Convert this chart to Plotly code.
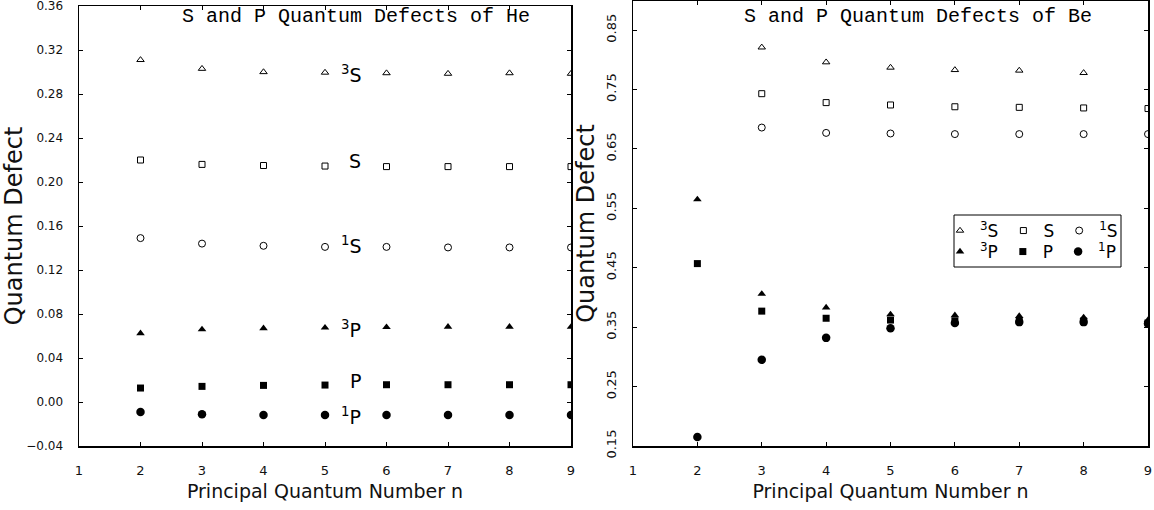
import plotly.graph_objects as go

W, H = 1154, 510

# ---------------- data ----------------
n_he = [2, 3, 4, 5, 6, 7, 8, 9]
he_3S = [0.311, 0.303, 0.300, 0.2995, 0.299, 0.2985, 0.299, 0.2985]
he_S = [0.220, 0.216, 0.215, 0.2145, 0.214, 0.214, 0.214, 0.214]
he_1S = [0.149, 0.144, 0.142, 0.141, 0.141, 0.1405, 0.1405, 0.1405]
he_3P = [0.0625, 0.066, 0.067, 0.0676, 0.068, 0.0684, 0.0684, 0.0682]
he_P = [0.0127, 0.0142, 0.0151, 0.0154, 0.0157, 0.0157, 0.0157, 0.0157]
he_1P = [-0.0091, -0.0112, -0.0118, -0.0118, -0.0118, -0.0118, -0.0118, -0.0118]

n_be_s = [3, 4, 5, 6, 7, 8, 9]
be_3S = [0.821, 0.796, 0.787, 0.783, 0.782, 0.778, None]
be_S = [0.743, 0.728, 0.724, 0.721, 0.720, 0.719, 0.718]
be_1S = [0.686, 0.677, 0.676, 0.675, 0.675, 0.675, 0.675]
n_be_p = [2, 3, 4, 5, 6, 7, 8, 9]
be_3P = [0.565, 0.406, 0.383, 0.3715, 0.370, 0.3686, 0.3664, 0.362]
be_P = [0.457, 0.377, 0.365, 0.362, 0.3607, 0.3607, 0.3602, 0.357]
be_1P = [0.165, 0.295, 0.332, 0.348, 0.357, 0.3585, 0.3585, 0.356]

he_labels = ["<sup>3</sup>S", "S", "<sup>1</sup>S", "<sup>3</sup>P", "P", "<sup>1</sup>P"]
he_label_y = [0.2985, 0.2195, 0.1425, 0.0665, 0.0195, -0.0125]
he_label_x = [5.43, 5.49, 5.43, 5.43, 5.49, 5.43]

x_ticks = [1, 2, 3, 4, 5, 6, 7, 8, 9]
he_yticks = [-0.04, 0.00, 0.04, 0.08, 0.12, 0.16, 0.20, 0.24, 0.28, 0.32, 0.36]
be_yticks = [0.15, 0.25, 0.35, 0.45, 0.55, 0.65, 0.75, 0.85]

# ---------------- figure ----------------
fig = go.Figure()

def mk(symbol, size):
    open_ = symbol.endswith("-open")
    return dict(symbol=symbol, size=size, color="black",
                line=dict(color="black", width=1 if open_ else 0))

styles = {
    "3S": mk("triangle-up-open", 6.5),
    "S": mk("square-open", 6),
    "1S": mk("circle-open", 7),
    "3P": mk("triangle-up", 7.5),
    "P": mk("square", 7),
    "1P": mk("circle", 8.5),
}

for key, ys in [("3S", he_3S), ("S", he_S), ("1S", he_1S),
                ("3P", he_3P), ("P", he_P), ("1P", he_1P)]:
    fig.add_trace(go.Scatter(x=n_he, y=ys, mode="markers", marker=styles[key],
                             showlegend=False, xaxis="x", yaxis="y",
                             hoverinfo="skip"))

names = {"3S": "<sup>3</sup>S", "S": "S", "1S": "<sup>1</sup>S",
         "3P": "<sup>3</sup>P", "P": "P", "1P": "<sup>1</sup>P"}
for key, xs, ys, lg in [("3S", n_be_s, be_3S, "legend"), ("S", n_be_s, be_S, "legend"),
                        ("1S", n_be_s, be_1S, "legend"),
                        ("3P", n_be_p, be_3P, "legend2"), ("P", n_be_p, be_P, "legend2"),
                        ("1P", n_be_p, be_1P, "legend2")]:
    fig.add_trace(go.Scatter(x=xs, y=ys, mode="markers", marker=styles[key],
                             name=names[key], legend=lg, xaxis="x2", yaxis="y2",
                             hoverinfo="skip"))

# He labels
for t, xv, yv in zip(he_labels, he_label_x, he_label_y):
    fig.add_annotation(x=xv, y=yv, xref="x", yref="y", text=t, showarrow=False,
                       font=dict(family="DejaVu Sans", size=19, color="black"),
                       xanchor="center", yanchor="middle")

# panel titles
title_font = dict(family="Liberation Mono", size=20, color="black")
fig.add_annotation(x=356 / W, y=1 - 16 / H, xref="paper", yref="paper",
                   text="S and P Quantum Defects of He", showarrow=False,
                   font=title_font, xanchor="center", yanchor="middle")
fig.add_annotation(x=918 / W, y=1 - 16 / H, xref="paper", yref="paper",
                   text="S and P Quantum Defects of Be", showarrow=False,
                   font=title_font, xanchor="center", yanchor="middle")

# legend box
fig.add_shape(type="rect", xref="paper", yref="paper",
              x0=954 / W, x1=1121 / W, y0=1 - 267 / H, y1=1 - 215 / H,
              line=dict(color="black", width=1))

axis_common = dict(showgrid=False, zeroline=False, showline=True, linecolor="black",
                   linewidth=1.5, mirror="ticks", ticks="inside", ticklen=4,
                   tickwidth=1, tickcolor="black", ticklabeloverflow="allow")
xfont = dict(family="DejaVu Sans", size=13, color="#111")
xtitle_font = dict(family="DejaVu Sans", size=19, color="#111")
ytitle_font = dict(family="DejaVu Sans", size=24, color="#111")

fig.update_layout(
    width=W, height=H,
    margin=dict(l=0, r=0, t=0, b=0),
    paper_bgcolor="white", plot_bgcolor="white",
    xaxis=dict(domain=[79 / W, 571 / W], range=[1, 9], tickvals=x_ticks,
               tickfont=xfont, ticklabelstandoff=12, anchor="y",
               title=dict(text="Principal Quantum Number n", font=xtitle_font,
                          standoff=7), automargin=False, **axis_common),
    yaxis=dict(domain=[64 / H, 504 / H], range=[-0.04, 0.36], tickvals=he_yticks,
               tickformat=".2f", tickfont=dict(family="DejaVu Sans", size=12, color="#111"),
               ticklabelstandoff=12, anchor="x",
               title=dict(text="Quantum Defect", font=ytitle_font, standoff=7),
               automargin=False, **axis_common),
    xaxis2=dict(domain=[633 / W, 1148 / W], range=[1, 9], tickvals=x_ticks,
                tickfont=xfont, ticklabelstandoff=12, anchor="y2",
                title=dict(text="Principal Quantum Number n", font=xtitle_font,
                           standoff=7), automargin=False, **axis_common),
    yaxis2=dict(domain=[64 / H, 509 / H], range=[0.15, 0.899], tickvals=be_yticks,
                tickformat=".2f", tickangle=-90,
                tickfont=dict(family="DejaVu Sans", size=13, color="#111"),
                ticklabelstandoff=10, anchor="x2",
                title=dict(text="Quantum Defect", font=ytitle_font, standoff=3),
                automargin=False, **axis_common),
    legend=dict(orientation="h", x=940 / W, y=1 - 231 / H, xanchor="left",
                yanchor="middle", bgcolor="rgba(0,0,0,0)", borderwidth=0,
                font=dict(family="DejaVu Sans", size=17, color="black"),
                itemclick=False, itemdoubleclick=False),
    legend2=dict(orientation="h", x=940 / W, y=1 - 252 / H, xanchor="left",
                 yanchor="middle", bgcolor="rgba(0,0,0,0)", borderwidth=0,
                 font=dict(family="DejaVu Sans", size=17, color="black"),
                 itemclick=False, itemdoubleclick=False),
)

fig.write_html("out.html",
               config={"displayModeBar": False, "staticPlot": True},
               post_script="document.body.style.margin='0px';"
                           "document.body.style.padding='0px';"
                           "document.body.style.overflow='hidden';")
